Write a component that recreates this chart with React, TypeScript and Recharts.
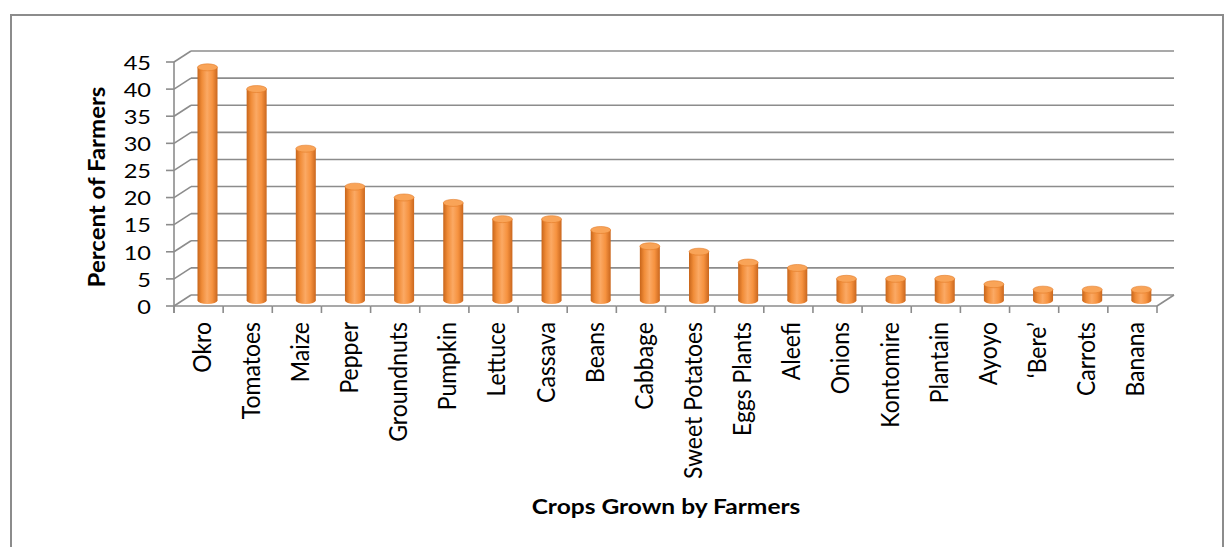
import { ComposedChart, Bar, XAxis, YAxis, CartesianGrid } from "recharts";

const crops = [
  "Okro", "Tomatoes", "Maize", "Pepper", "Groundnuts", "Pumpkin", "Lettuce",
  "Cassava", "Beans", "Cabbage", "Sweet Potatoes", "Eggs Plants", "Aleefi",
  "Onions", "Kontomire", "Plantain", "Ayoyo", "\u2018Bere\u2019", "Carrots", "Banana",
];
const percents = [43, 39, 28, 21, 19, 18, 15, 15, 13, 10, 9, 7, 6, 4, 4, 4, 3, 2, 2, 2];
const yTicks = [0, 5, 10, 15, 20, 25, 30, 35, 40, 45];
const yTitle = "Percent of Farmers";
const xTitle = "Crops Grown by Farmers";

const data = crops.map((crop, i) => ({ crop, value: percents[i] }));

// layout (the plot area is the mid-depth plane of the 3D box)
const W = 1231;
const H = 547;
const PLOT_LEFT = 182.5;
const PLOT_RIGHT = 1165.5;
const PLOT_TOP = 56.5;
const PLOT_BOTTOM = 300.5;
const HX = 8.5; // half depth, x
const HY = 5.5; // half depth, y
const YAXIS_W = 100;
const XAXIS_H = 200;
const BAND = (PLOT_RIGHT - PLOT_LEFT) / crops.length;
const GRID = "#8c8c8c";
const FONT = "Lato, 'Open Sans', sans-serif";

function SText({ x, y, sx = 1.18, rotate = false, size, bold = false, anchor = "middle", children }: any) {
  return (
    <text
      transform={`translate(${x},${y}) scale(${sx},1)${rotate ? " rotate(-90)" : ""}`}
      textAnchor={anchor}
      dominantBaseline="central"
      fontFamily={FONT}
      fontSize={size}
      fontWeight={bold ? 700 : 400}
      fill="#000"
    >
      {children}
    </text>
  );
}

const GridLine = (p: any) => {
  const yf = p.y1 + HY;
  const yb = p.y1 - HY;
  const fl = PLOT_LEFT - HX;
  const bl = PLOT_LEFT + HX;
  return (
    <g key={p.key} stroke={GRID} strokeWidth={1.6}>
      <line x1={fl - 8} y1={yf} x2={fl} y2={yf} />
      <line x1={fl} y1={yf} x2={bl} y2={yb} />
      <line x1={bl} y1={yb} x2={PLOT_RIGHT + HX} y2={yb} />
    </g>
  );
};

const YTick = (p: any) => {
  const yf = p.y + HY;
  const fl = PLOT_LEFT - HX;
  return (
    <g>
      {p.payload.value === 0 && (
        <line x1={fl} y1={PLOT_TOP + HY} x2={fl} y2={PLOT_BOTTOM + HY + 7} stroke={GRID} strokeWidth={1.6} />
      )}
      <SText x={151} y={yf} size={20} anchor="end">
        {p.payload.value}
      </SText>
    </g>
  );
};

const XTick = (p: any) => {
  const xf = p.x - HX;
  const xl = xf - BAND / 2;
  const xr = xf + BAND / 2;
  const fy = PLOT_BOTTOM + HY;
  const last = p.index === crops.length - 1;
  return (
    <g>
      <g stroke={GRID} strokeWidth={1.6}>
        <line x1={xl} y1={fy} x2={xr} y2={fy} />
        <line x1={xl} y1={fy} x2={xl} y2={fy + 7} />
        {last && <line x1={xr} y1={fy} x2={xr} y2={fy + 7} />}
        {last && <line x1={xr} y1={fy} x2={xr + 2 * HX} y2={fy - 2 * HY} />}
      </g>
      <SText x={xf + 2} y={fy + 16} size={23} sx={1.1} rotate anchor="end">
        {p.payload.value}
      </SText>
    </g>
  );
};

const Cylinder = (p: any) => {
  const { x, y, width, height, index } = p;
  const rx = width / 2;
  const ry = 3.5;
  const cx = x + rx;
  const id = `cyl-${index}`;
  return (
    <g>
      <defs>
        <linearGradient id={id} x1="0" y1="0" x2="1" y2="0">
          <stop offset="0%" stopColor="#c8651a" />
          <stop offset="22%" stopColor="#f08c38" />
          <stop offset="48%" stopColor="#fba964" />
          <stop offset="74%" stopColor="#f6923f" />
          <stop offset="100%" stopColor="#ca671e" />
        </linearGradient>
      </defs>
      <ellipse cx={cx} cy={y + height} rx={rx} ry={ry} fill={`url(#${id})`} />
      <rect x={x} y={y} width={width} height={height} fill={`url(#${id})`} />
      <ellipse cx={cx} cy={y} rx={rx} ry={ry} fill="#f9a458" stroke="#e27a26" strokeWidth={0.6} />
    </g>
  );
};

export default function App() {
  return (
    <div style={{ position: "absolute", left: 0, top: 0, width: W, height: H, overflow: "hidden", background: "#fff" }}>
      <div
        style={{
          position: "absolute",
          left: 10,
          top: 14,
          width: 1210,
          height: 560,
          border: "2px solid #8c8c8c",
        }}
      />
      <div style={{ position: "absolute", left: 0, top: 0 }}>
        <ComposedChart
          width={W}
          height={H}
          data={data}
          margin={{
            top: PLOT_TOP,
            right: W - PLOT_RIGHT,
            left: PLOT_LEFT - YAXIS_W,
            bottom: H - PLOT_BOTTOM - XAXIS_H,
          }}
        >
          <CartesianGrid vertical={false} horizontal={GridLine} />
          <XAxis
            dataKey="crop"
            interval={0}
            height={XAXIS_H}
            axisLine={false}
            tickLine={false}
            tick={XTick}
            label={{
              content: () => (
                <SText x={666} y={506} size={20.8} bold>
                  {xTitle}
                </SText>
              ),
            }}
          />
          <YAxis
            type="number"
            domain={[0, 45]}
            ticks={yTicks}
            width={YAXIS_W}
            axisLine={false}
            tickLine={false}
            tick={YTick}
            label={{
              content: () => (
                <SText x={96} y={187} size={24} bold rotate sx={0.95}>
                  {yTitle}
                </SText>
              ),
            }}
          />
          <Bar dataKey="value" barSize={20} shape={Cylinder} isAnimationActive={false} />
        </ComposedChart>
      </div>
    </div>
  );
}
